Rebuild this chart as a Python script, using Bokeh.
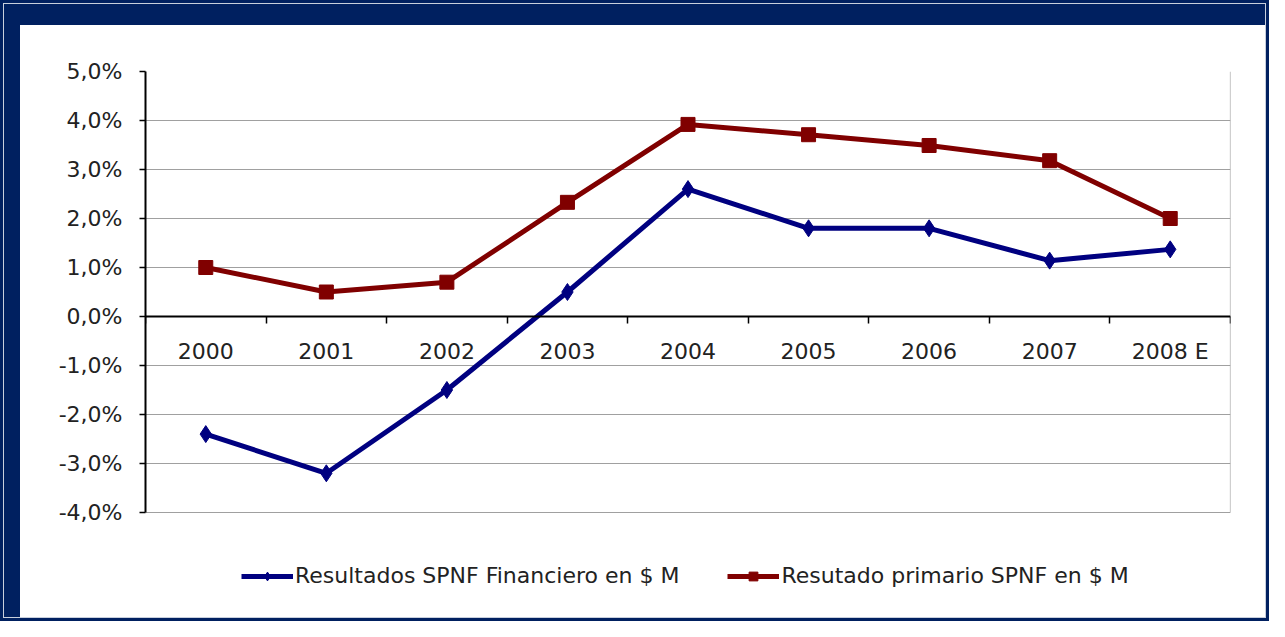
from bokeh.plotting import figure
from bokeh.models import Range1d, FixedTicker, Legend, LegendItem, Column
from bokeh.embed import file_html
from bokeh.resources import INLINE

years = ["2000", "2001", "2002", "2003", "2004", "2005", "2006", "2007", "2008 E"]
financiero = [-2.4, -3.2, -1.5, 0.5, 2.6, 1.8, 1.8, 1.14, 1.37]
primario = [1.0, 0.5, 0.7, 2.33, 3.92, 3.71, 3.49, 3.18, 2.0]
y_ticks = [-4, -3, -2, -1, 0, 1, 2, 3, 4, 5]
y_labels = ["-4,0%", "-3,0%", "-2,0%", "-1,0%", "0,0%", "1,0%", "2,0%", "3,0%", "4,0%", "5,0%"]
series_names = ["Resultados SPNF Financiero en $ M", "Resutado primario SPNF en $ M"]

NAVY = "#002060"
BLUE = "#000080"
RED = "#800000"
FONT = "DejaVu Sans"
TXT = "#222222"

# layout (pixels)
FRAME_W = 1085
PLOT_H = 441          # height of the -4%..5% area
FRAME_H = 546         # frame extends below the plot area to hold the legend
y_lo, y_hi = y_ticks[0], y_ticks[-1]
y_start = y_hi - (y_hi - y_lo) * FRAME_H / PLOT_H

x = [i + 0.5 for i in range(len(years))]
n = len(years)

p = figure(frame_width=FRAME_W, frame_height=FRAME_H,
           x_range=Range1d(0, n), y_range=Range1d(y_start, y_hi),
           output_backend="svg", toolbar_location=None,
           min_border_left=125, min_border_right=35, min_border_top=46, min_border_bottom=0)
p.background_fill_color = "white"
p.border_fill_color = "white"
p.outline_line_color = None
p.styles = {"background-color": "white"}

# x axis at y = 0
xa = p.xaxis[0]
xa.fixed_location = 0
xa.ticker = FixedTicker(ticks=x, minor_ticks=list(range(n + 1)))
xa.major_label_overrides = {xi: yr for xi, yr in zip(x, years)}
xa.major_tick_out = 0
xa.major_tick_in = 0
xa.minor_tick_out = 7
xa.minor_tick_in = 0
xa.minor_tick_line_color = "black"
xa.minor_tick_line_width = 1.5
xa.axis_line_color = "black"
xa.axis_line_width = 2
xa.major_label_standoff = 15
xa.major_label_text_font = FONT
xa.major_label_text_font_size = "22px"
xa.major_label_text_color = TXT

ya = p.yaxis[0]
ya.bounds = (y_lo, y_hi)
ya.ticker = FixedTicker(ticks=y_ticks)
ya.major_label_overrides = {v: s for v, s in zip(y_ticks, y_labels)}
ya.major_tick_out = 6
ya.major_tick_in = 0
ya.minor_tick_out = 0
ya.minor_tick_in = 0
ya.major_tick_line_color = "black"
ya.major_tick_line_width = 1.5
ya.axis_line_color = "black"
ya.axis_line_width = 2
ya.major_label_standoff = 17
ya.major_label_text_font = FONT
ya.major_label_text_font_size = "22px"
ya.major_label_text_color = TXT

p.xgrid.visible = False
p.ygrid.ticker = FixedTicker(ticks=y_ticks)
p.ygrid.grid_line_color = "#a0a0a0"
p.ygrid.grid_line_width = 1.2

# right border of the plot area
p.segment(x0=[n], y0=[y_lo], x1=[n], y1=[y_hi], line_color="#a0a0a0", line_width=1.2)

l1 = p.line(x, financiero, line_color=BLUE, line_width=5)
s1 = p.scatter(x, financiero, marker="diamond", size=17, fill_color=BLUE, line_color=BLUE)
l2 = p.line(x, primario, line_color=RED, line_width=5)
s2 = p.scatter(x, primario, marker="square", size=14, fill_color=RED, line_color=RED)

legend = Legend(items=[LegendItem(label=series_names[0], renderers=[l1, s1]),
                       LegendItem(label=series_names[1], renderers=[l2, s2])],
                orientation="horizontal", location=(96, 29),
                border_line_alpha=0, background_fill_alpha=0,
                label_text_font=FONT, label_text_font_size="22px", label_text_color=TXT,
                glyph_width=52, glyph_height=22, padding=0, margin=0, spacing=48,
                label_standoff=2)
p.add_layout(legend)

layout = Column(p, styles={"background-color": NAVY, "padding": "25px 4px 4px 20px",
                           "box-shadow": "inset 0 0 0 3px " + NAVY + ", inset 0 0 0 4px #c8cfdc"})

open("out.html", "w").write(file_html(layout, INLINE))
